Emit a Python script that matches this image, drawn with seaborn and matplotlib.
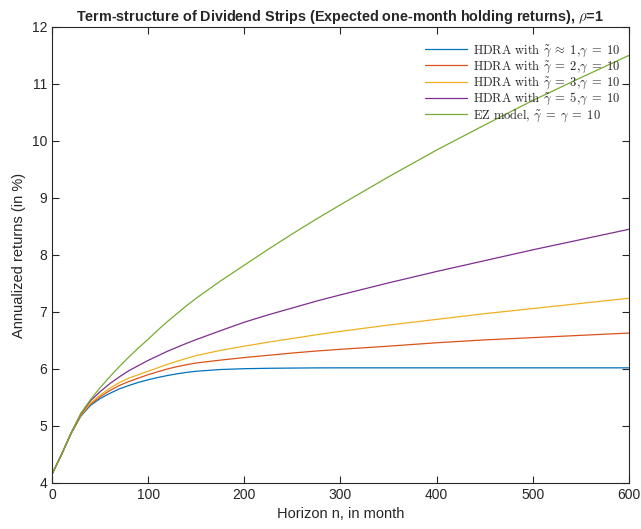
import numpy as np
import pandas as pd
import matplotlib
matplotlib.use("Agg")
import matplotlib.pyplot as plt
import seaborn as sns

# Data (annualized returns, in %)
horizon = [0, 10, 20, 30, 40, 50, 60, 70, 80, 90, 100, 110, 120, 130, 140, 150,
           175, 200, 225, 250, 275, 300, 350, 400, 450, 500, 550, 600]
hdra_1 = [4.15, 4.50, 4.87, 5.17, 5.36, 5.48, 5.57, 5.65, 5.71, 5.765, 5.81, 5.85, 5.885, 5.915, 5.94, 5.96,
          5.99, 6.005, 6.012, 6.016, 6.019, 6.02, 6.02, 6.02, 6.02, 6.02, 6.02, 6.02]
hdra_2 = [4.15, 4.50, 4.87, 5.18, 5.38, 5.51, 5.62, 5.71, 5.78, 5.84, 5.90, 5.95, 6.00, 6.04, 6.075, 6.105,
          6.155, 6.20, 6.24, 6.28, 6.315, 6.345, 6.40, 6.46, 6.51, 6.55, 6.59, 6.63]
hdra_3 = [4.15, 4.50, 4.87, 5.19, 5.40, 5.54, 5.66, 5.76, 5.84, 5.90, 5.96, 6.02, 6.08, 6.135, 6.185, 6.235,
          6.325, 6.40, 6.47, 6.535, 6.60, 6.66, 6.77, 6.87, 6.97, 7.06, 7.15, 7.24]
hdra_5 = [4.15, 4.50, 4.88, 5.21, 5.44, 5.60, 5.74, 5.86, 5.97, 6.06, 6.15, 6.23, 6.31, 6.38, 6.45, 6.515,
          6.67, 6.82, 6.95, 7.07, 7.19, 7.30, 7.51, 7.71, 7.90, 8.09, 8.27, 8.45]
ez_model = [4.15, 4.50, 4.88, 5.22, 5.46, 5.67, 5.86, 6.04, 6.21, 6.37, 6.52, 6.68, 6.83, 6.97, 7.11, 7.24,
            7.54, 7.82, 8.10, 8.37, 8.63, 8.88, 9.37, 9.84, 10.28, 10.71, 11.11, 11.50]

labels = [
    r"HDRA with $\tilde{\gamma}\;\approx\;1$,$\gamma\;=\;10$",
    r"HDRA with $\tilde{\gamma}\;=\;2$,$\gamma\;=\;10$",
    r"HDRA with $\tilde{\gamma}\;=\;3$,$\gamma\;=\;10$",
    r"HDRA with $\tilde{\gamma}\;=\;5$,$\gamma\;=\;10$",
    r"EZ model, $\tilde{\gamma}\;=\;\gamma\;=\;10$",
]
colors = ["#0072BD", "#D95319", "#EDB120", "#7E2F8E", "#77AC30"]

df = pd.DataFrame({"n": horizon})
for lab, vals in zip(labels, [hdra_1, hdra_2, hdra_3, hdra_5, ez_model]):
    df[lab] = vals
long = df.melt(id_vars="n", var_name="series", value_name="ret")

sns.set_style("ticks")
plt.rcParams["font.family"] = ["Liberation Sans", "DejaVu Sans"]
plt.rcParams["font.serif"] = ["cmr10", "DejaVu Serif"]
plt.rcParams["mathtext.fontset"] = "cm"

fig = plt.figure(figsize=(6.41, 5.29), dpi=100)
ax = fig.add_axes([0.081, 0.087, 0.900, 0.862])

sns.lineplot(data=long, x="n", y="ret", hue="series", hue_order=labels,
             palette=colors, linewidth=0.9, ax=ax)

ax.set_xlim(0, 600)
ax.set_ylim(4, 12)
ax.set_xticks(np.arange(0, 601, 100))
ax.set_yticks(np.arange(4, 13, 1))
ax.tick_params(direction="in", length=5, width=0.8, top=True, right=True,
               labelsize=10, colors="#262626")
for s in ax.spines.values():
    s.set_visible(True)
    s.set_color("#262626")
    s.set_linewidth(0.8)

ax.set_xlabel("Horizon n, in month", fontsize=10.5, color="#262626")
ax.set_ylabel("Annualized returns (in %)", fontsize=10.5, color="#262626")
ax.set_title(r"Term-structure of Dividend Strips (Expected one-month holding returns), $\rho$=1",
             fontsize=10.4, fontweight="bold", pad=4)

leg = ax.legend(loc="upper right", bbox_to_anchor=(1.0, 0.985), frameon=False,
                prop={"family": "serif", "size": 9}, handlelength=3.3,
                labelspacing=0.0, borderaxespad=0.3, handletextpad=0.5)

fig.savefig("out.png", dpi=100)
